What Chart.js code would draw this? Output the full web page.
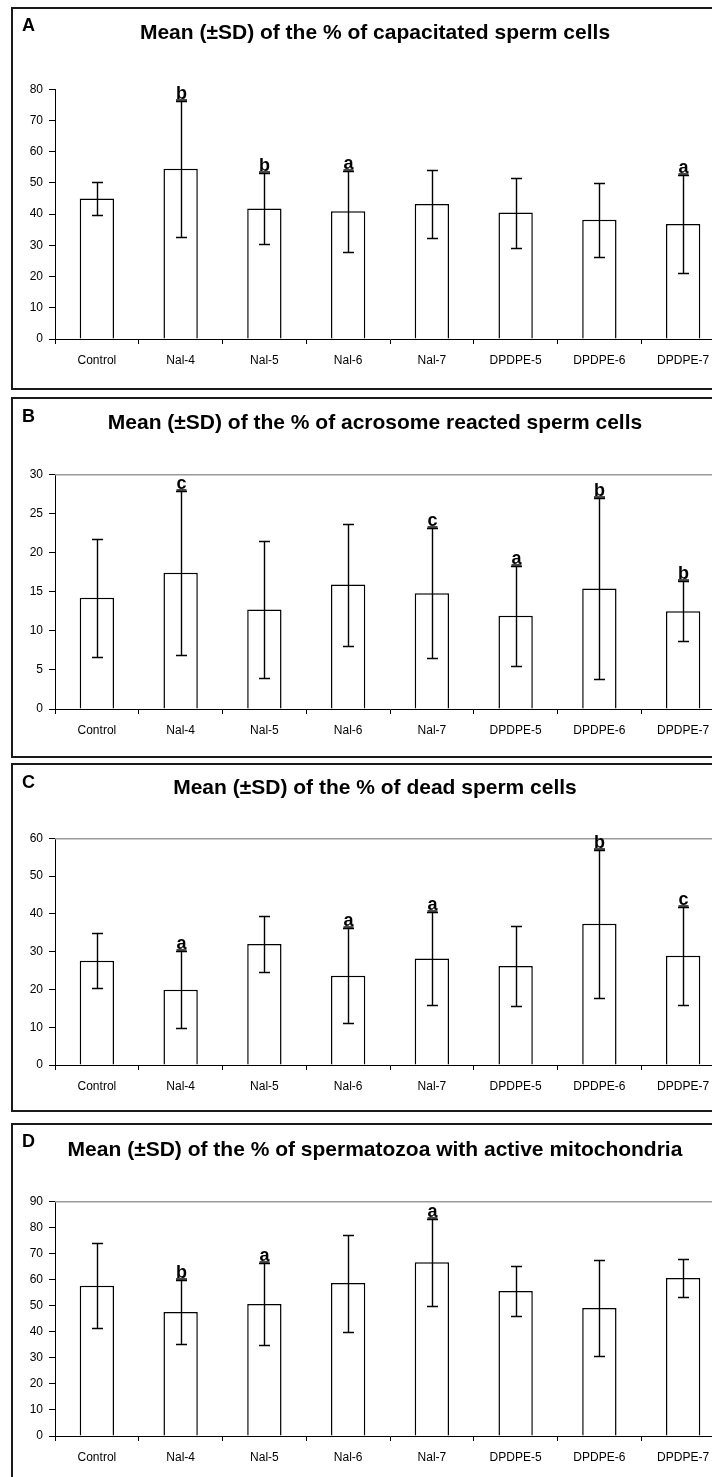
<!DOCTYPE html>
<html>
<head>
<meta charset="utf-8">
<script src="https://cdn.jsdelivr.net/npm/chart.js@4/dist/chart.umd.min.js"></script>
<style>
  html, body { margin: 0; padding: 0; background: #fff; width: 712px; height: 1477px; overflow: hidden; }
  .panel { position: absolute; left: 11px; width: 740px; box-sizing: border-box; border: 2px solid #1a1a1a; pointer-events: none; }
  canvas { position: absolute; left: 11px; }
</style>
</head>
<body>
<canvas id="chartA" width="714" height="383" style="top:7px"></canvas>
<canvas id="chartB" width="714" height="361" style="top:397px"></canvas>
<canvas id="chartC" width="714" height="349" style="top:763px"></canvas>
<canvas id="chartD" width="714" height="367" style="top:1123px"></canvas>
<div class="panel" style="top:7px;height:383px"></div>
<div class="panel" style="top:397px;height:361px"></div>
<div class="panel" style="top:763px;height:349px"></div>
<div class="panel" style="top:1123px;height:380px"></div>
<script>
const categories = ['Control', 'Nal-4', 'Nal-5', 'Nal-6', 'Nal-7', 'DPDPE-5', 'DPDPE-6', 'DPDPE-7'];

// A - capacitated
const capacitatedMean = [45.0, 54.5, 41.8, 40.9, 43.2, 40.5, 38.2, 36.8];
const capacitatedSD = [5.2, 21.8, 11.5, 13.0, 11.0, 11.2, 11.9, 15.6];
const capacitatedSig = ['', 'b', 'b', 'a', '', '', '', 'a'];

// B - acrosome reacted
const acrosomeMean = [14.2, 17.4, 12.7, 15.9, 14.8, 11.9, 15.4, 12.5];
const acrosomeSD = [7.5, 10.5, 8.8, 7.8, 8.3, 6.4, 11.6, 3.8];
const acrosomeSig = ['', 'c', '', '', 'c', 'a', 'b', 'b'];

// C - dead
const deadMean = [27.6, 19.9, 32.0, 23.6, 28.2, 26.2, 37.4, 28.9];
const deadSD = [7.2, 10.2, 7.3, 12.6, 12.2, 10.5, 19.6, 13.0];
const deadSig = ['', 'a', '', 'a', 'a', '', 'b', 'c'];

// D - active mitochondria
const mitoMean = [57.6, 47.5, 50.6, 58.6, 66.6, 55.6, 49.1, 60.6];
const mitoSD = [16.3, 12.3, 15.6, 18.6, 16.7, 9.5, 18.5, 7.3];
const mitoSig = ['', 'b', 'a', '', 'a', '', '', ''];

const FONT = "'Liberation Sans', Arial, sans-serif";

// error bars, significance letters, panel letter, plot frame
const extras = {
  id: 'extras',
  beforeDatasetsDraw(chart, args, opts) {
    const a = chart.chartArea;
    const ctx = chart.ctx;
    if (opts.frame) {
      ctx.save();
      ctx.strokeStyle = '#9a9a9a';
      ctx.lineWidth = 1.5;
      ctx.beginPath();
      ctx.moveTo(a.left, a.top + 0.5);
      ctx.lineTo(a.right - 1, a.top + 0.5);
      ctx.lineTo(a.right - 1, a.bottom);
      ctx.stroke();
      ctx.restore();
    }
  },
  afterDatasetsDraw(chart, args, opts) {
    const ctx = chart.ctx;
    const y = chart.scales.y;
    const meta = chart.getDatasetMeta(0);
    ctx.save();
    ctx.strokeStyle = '#000';
    ctx.lineWidth = 1.4;
    meta.data.forEach((bar, i) => {
      const m = opts.mean[i], s = opts.sd[i];
      const x = Math.round(bar.x) + 0.5;
      const top = Math.round(y.getPixelForValue(m + s)) + 0.5;
      const bot = Math.round(y.getPixelForValue(m - s)) + 0.5;
      ctx.beginPath();
      ctx.moveTo(x, top); ctx.lineTo(x, bot);
      ctx.moveTo(x - 5.5, top); ctx.lineTo(x + 5.5, top);
      ctx.moveTo(x - 5.5, bot); ctx.lineTo(x + 5.5, bot);
      ctx.stroke();
      const sig = opts.sig[i];
      if (sig) {
        ctx.fillStyle = '#000';
        ctx.font = 'bold 18px ' + FONT;
        ctx.textAlign = 'center';
        ctx.textBaseline = 'alphabetic';
        ctx.fillText(sig, x, top - 3);
        const w = ctx.measureText(sig).width;
        ctx.beginPath();
        ctx.moveTo(x - w / 2, top - 1.5);
        ctx.lineTo(x + w / 2, top - 1.5);
        ctx.stroke();
      }
    });
    ctx.fillStyle = '#000';
    ctx.font = 'bold 18px ' + FONT;
    ctx.textAlign = 'left';
    ctx.textBaseline = 'middle';
    ctx.fillText(opts.label, 11, opts.labelY);
    ctx.restore();
  }
};

function makeChart(id, cfg) {
  return new Chart(document.getElementById(id), {
    type: 'bar',
    data: {
      labels: categories,
      datasets: [{
        data: cfg.mean,
        backgroundColor: '#ffffff',
        borderColor: '#000000',
        borderWidth: 1.5,
        barPercentage: 0.41,
        categoryPercentage: 1
      }]
    },
    options: {
      responsive: false,
      animation: false,
      devicePixelRatio: 1,
      layout: { padding: { left: 14, right: 0, top: 0, bottom: 0 } },
      plugins: {
        legend: { display: false },
        tooltip: { enabled: false },
        title: {
          display: true,
          text: cfg.title,
          color: '#000',
          font: { family: FONT, size: 21, weight: 'bold', lineHeight: 1.2 },
          padding: { top: cfg.titleTop, bottom: cfg.titleBottom }
        },
        extras: { mean: cfg.mean, sd: cfg.sd, sig: cfg.sig, label: cfg.label, labelY: cfg.labelY, frame: cfg.frame }
      },
      scales: {
        x: {
          offset: true,
          afterFit: (s) => { s.height = cfg.xHeight; },
          grid: { drawOnChartArea: false, drawTicks: true, tickLength: 5, color: '#000', offset: true },
          border: { display: true, color: '#000', width: 1 },
          ticks: { color: '#000', font: { family: FONT, size: 12 }, padding: 9, maxRotation: 0, autoSkip: false }
        },
        y: {
          min: 0,
          max: cfg.max,
          afterFit: (s) => { s.width = 30; },
          grid: { drawOnChartArea: false, drawTicks: true, tickLength: 6, color: '#000' },
          border: { display: true, color: '#000', width: 1 },
          ticks: { stepSize: cfg.step, color: '#000', font: { family: FONT, size: 12 }, padding: 6 }
        }
      }
    },
    plugins: [extras]
  });
}

makeChart('chartA', {
  title: 'Mean (\u00B1SD) of the % of capacitated sperm cells',
  mean: capacitatedMean, sd: capacitatedSD, sig: capacitatedSig,
  max: 80, step: 10, label: 'A', labelY: 19, frame: false,
  titleTop: 14, titleBottom: 43, xHeight: 51
});
makeChart('chartB', {
  title: 'Mean (\u00B1SD) of the % of acrosome reacted sperm cells',
  mean: acrosomeMean, sd: acrosomeSD, sig: acrosomeSig,
  max: 30, step: 5, label: 'B', labelY: 20, frame: true,
  titleTop: 14, titleBottom: 38, xHeight: 49
});
makeChart('chartC', {
  title: 'Mean (\u00B1SD) of the % of dead sperm cells',
  mean: deadMean, sd: deadSD, sig: deadSig,
  max: 60, step: 10, label: 'C', labelY: 20, frame: true,
  titleTop: 13, titleBottom: 37, xHeight: 47
});
makeChart('chartD', {
  title: 'Mean (\u00B1SD) of the % of spermatozoa with active mitochondria',
  mean: mitoMean, sd: mitoSD, sig: mitoSig,
  max: 90, step: 10, label: 'D', labelY: 19, frame: true,
  titleTop: 15, titleBottom: 38, xHeight: 54
});
</script>
</body>
</html>
